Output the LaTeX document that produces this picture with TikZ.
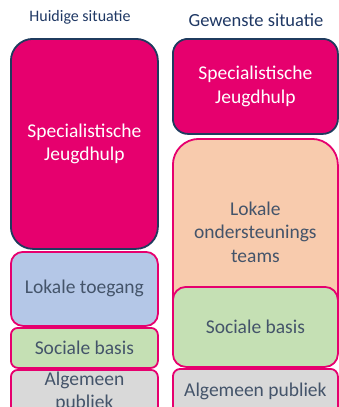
\documentclass[tikz,border=0pt]{standalone}
\usepackage{fontspec}
\setmainfont{Carlito}
\definecolor{roze}{HTML}{E6006E}
\definecolor{donker}{HTML}{1F3B5E}
\definecolor{tekst}{HTML}{44546A}
\definecolor{kop}{HTML}{1F3864}
\definecolor{lichtblauw}{HTML}{B4C7E7}
\definecolor{lichtgroen}{HTML}{C5E0B4}
\definecolor{lichtgrijs}{HTML}{D9D9D9}
\definecolor{zalm}{HTML}{F8CBAD}
\begin{document}
\begin{tikzpicture}[x=1pt,y=-1pt,
	blok/.style={draw=roze, line width=1.8pt, anchor=north west, inner sep=0pt,
		align=center, text=tekst, font=\fontsize{19.5}{23.5}\selectfont},
	spec/.style={blok, draw=donker, fill=roze, text=white}]
	
	\useasboundingbox (0,0) rectangle (339,407);
	\clip (0,0) rectangle (339,407);
	
	\node [text=kop, font=\fontsize{16}{19}\selectfont] (huidig) at (80,17) {Huidige situatie};
	\node [text=kop, font=\fontsize{18.5}{22}\selectfont] (gewenst) at (256,20) {Gewenste situatie};
	
	% huidige situatie
	\node [spec, rounded corners=22pt, minimum width=147pt, minimum height=210pt] (specL) at (10,38) {Specialistische\\Jeugdhulp};
	\node [blok, fill=lichtblauw, rounded corners=12pt, minimum width=147pt, minimum height=74pt] (toegang) at (10,251) {Lokale toegang};
	\node [blok, fill=lichtgroen, rounded corners=7pt, minimum width=147pt, minimum height=40pt] (basisL) at (10,327) {Sociale basis};
	\node [blok, fill=lichtgrijs, rounded corners=7pt, minimum width=147pt, minimum height=44pt] (publiekL) at (10,369) {Algemeen\\publiek};
	
	% gewenste situatie
	\node [spec, rounded corners=15pt, minimum width=165pt, minimum height=95pt] (specR) at (172,38) {Specialistische\\Jeugdhulp};
	\node [blok, fill=zalm, rounded corners=26pt, minimum width=165pt, minimum height=186pt] (teams) at (172,138) {Lokale\\ondersteunings\\teams};
	\node [blok, fill=lichtgroen, rounded corners=13pt, minimum width=165pt, minimum height=80pt] (basisR) at (172,286) {Sociale basis};
	\node [blok, fill=lichtgrijs, rounded corners=7.5pt, minimum width=165pt, minimum height=46pt] (publiekR) at (172,368) {Algemeen publiek};
	
\end{tikzpicture}
\end{document}
